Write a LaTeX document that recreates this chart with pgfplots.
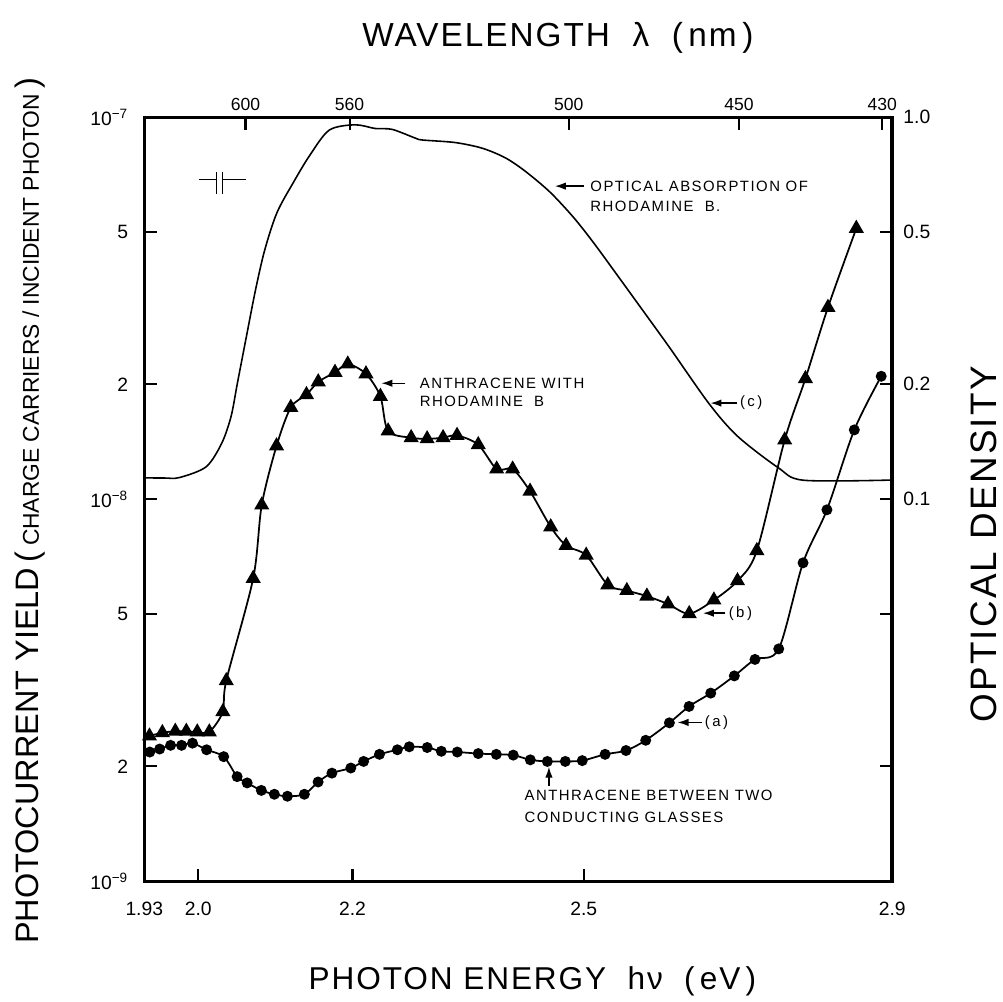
\documentclass[border=0pt]{standalone}
\usepackage{fontspec}
\setmainfont{Liberation Sans}
\newfontfamily\spaced[LetterSpace=6]{Liberation Sans}
\newfontfamily\annot[LetterSpace=10]{Liberation Sans}
\usepackage{pgfplots}
\pgfplotsset{compat=1.18}
\usetikzlibrary{arrows.meta}

\tikzset{
  ann/.style={font=\annot\fontsize{8.5}{10}\selectfont, anchor=west, inner sep=0pt},
  arr/.style={line width=0.8pt,-{Latex[length=2.2mm,width=1.5mm]}},
}

\begin{document}
\begin{tikzpicture}
% left / bottom: photocurrent yield against photon energy
\begin{axis}[
  scale only axis, width=14.98cm, height=15.3cm,
  xmin=1.93, xmax=2.9, ymode=log, ymin=1e-9, ymax=1e-7,
  tick align=inside, major tick length=0.25cm,
  yminorticks=false, xminorticks=false,
  axis line style={line width=2pt},
  major tick style={black,line width=1.2pt},
  clip=false,
  xtick pos=bottom, ytick pos=left,
  xtick={1.93,2.0,2.2,2.5,2.9}, xticklabels={1.93,2.0,2.2,2.5,2.9},
  ytick={1e-9,2e-9,5e-9,1e-8,2e-8,5e-8,1e-7},
  yticklabels={10\textsuperscript{−9},2,5,10\textsuperscript{−8},2,5,10\textsuperscript{−7}},
  tick label style={font=\fontsize{11}{13}\selectfont},
  xticklabel style={yshift=-0.3cm},
  yticklabel style={xshift=-0.2cm},
]
% (a) anthracene between two conducting glasses
\addplot[black, line width=1pt, smooth, tension=0.5, mark=*, mark size=2.6pt] coordinates {
(1.9371,2.18e-9) (1.9499,2.22e-9) (1.9641,2.27e-9) (1.9783,2.27e-9) (1.9925,2.30e-9)
(2.0108,2.21e-9) (2.0330,2.12e-9) (2.0504,1.88e-9) (2.0634,1.81e-9) (2.0818,1.73e-9)
(2.0987,1.69e-9) (2.1156,1.67e-9) (2.1376,1.69e-9) (2.1554,1.82e-9) (2.1733,1.92e-9)
(2.1978,1.98e-9) (2.2144,2.06e-9) (2.2350,2.15e-9) (2.2582,2.21e-9) (2.2736,2.25e-9)
(2.2969,2.24e-9) (2.3152,2.19e-9) (2.3359,2.18e-9) (2.3631,2.16e-9) (2.3865,2.15e-9)
(2.4085,2.14e-9) (2.4306,2.08e-9) (2.4527,2.06e-9) (2.4760,2.06e-9) (2.4980,2.07e-9)
(2.5276,2.15e-9) (2.5547,2.20e-9) (2.5803,2.34e-9) (2.6110,2.60e-9) (2.6365,2.87e-9)
(2.6646,3.11e-9) (2.6952,3.45e-9) (2.7220,3.81e-9) (2.7528,4.06e-9)
(2.7843,6.82e-9) (2.8153,9.39e-9) (2.8508,1.52e-8) (2.8857,2.10e-8)};
% (b) anthracene with rhodamine B
\addplot[black, line width=1pt, smooth, tension=0.5, mark=triangle*, mark size=4pt] coordinates {
(1.9367,2.40e-9) (1.9534,2.45e-9) (1.9702,2.47e-9) (1.9845,2.47e-9) (1.9987,2.46e-9)
(2.0143,2.46e-9) (2.0319,2.78e-9) (2.0363,3.35e-9) (2.0712,6.21e-9) (2.0823,9.66e-9)
(2.1015,1.38e-8) (2.1200,1.74e-8) (2.1403,1.88e-8) (2.1556,2.03e-8) (2.1773,2.15e-8)
(2.1939,2.26e-8) (2.2175,2.13e-8) (2.2362,1.86e-8) (2.2462,1.51e-8) (2.2761,1.45e-8)
(2.2968,1.44e-8) (2.3175,1.45e-8) (2.3356,1.47e-8) (2.3631,1.39e-8) (2.3870,1.20e-8)
(2.4077,1.20e-8) (2.4303,1.05e-8) (2.4571,8.47e-9) (2.4770,7.57e-9) (2.5031,7.14e-9)
(2.5311,5.97e-9) (2.5558,5.77e-9) (2.5818,5.58e-9) (2.6092,5.32e-9) (2.6367,5.02e-9)
(2.6687,5.45e-9) (2.6993,6.12e-9) (2.7244,7.34e-9) (2.7605,1.43e-8) (2.7874,2.07e-8)
(2.8166,3.18e-8) (2.8534,5.12e-8)};

% titles
\node[font=\spaced\fontsize{19}{22}\selectfont] at ([yshift=1.6cm]rel axis cs:0.553,1) {WAVELENGTH\ \ λ\ \ (\,nm\,)};
\node[font=\spaced\fontsize{18}{22}\selectfont] at ([yshift=-2.0cm]rel axis cs:0.519,0) {PHOTON ENERGY\ \ hν\ \ (\,eV\,)};
\node[rotate=90, font=\fontsize{18.5}{22}\selectfont] at ([xshift=-2.28cm]rel axis cs:0,0.485)
  {PHOTOCURRENT YIELD\,(\,{\fontsize{13}{15}\selectfont CHARGE CARRIERS / INCIDENT PHOTON}\,)};
\node[rotate=90, font=\spaced\fontsize{21}{24}\selectfont] at ([xshift=1.84cm]rel axis cs:1,0.441) {OPTICAL DENSITY};

% annotations
\node[ann] at (rel axis cs:0.596,0.910) {OPTICAL ABSORPTION OF};
\node[ann] at (rel axis cs:0.596,0.883) {RHODAMINE\ \ B.};
\draw[arr] (rel axis cs:0.588,0.910) -- (rel axis cs:0.549,0.910);
\node[ann] at (rel axis cs:0.368,0.652) {ANTHRACENE WITH};
\node[ann] at (rel axis cs:0.368,0.628) {RHODAMINE\ \ B};
\draw[arr] (rel axis cs:0.349,0.652) -- (rel axis cs:0.317,0.652);
\node[ann] at (rel axis cs:0.796,0.626) {(\,c\,)};
\draw[arr] (rel axis cs:0.793,0.626) -- (rel axis cs:0.757,0.626);
\node[ann] at (rel axis cs:0.781,0.351) {(\,b\,)};
\draw[arr] (rel axis cs:0.777,0.351) -- (rel axis cs:0.747,0.351);
\node[ann] at (rel axis cs:0.749,0.208) {(\,a\,)};
\draw[arr] (rel axis cs:0.746,0.208) -- (rel axis cs:0.713,0.208);
\node[ann] at (rel axis cs:0.508,0.113) {ANTHRACENE BETWEEN TWO};
\node[ann] at (rel axis cs:0.508,0.084) {CONDUCTING GLASSES};
\draw[arr] (rel axis cs:0.541,0.125) -- (rel axis cs:0.541,0.150);
% capacitor sign
\draw[line width=1pt] (rel axis cs:0.0725,0.9187) -- (rel axis cs:0.0966,0.9187)
  (rel axis cs:0.0966,0.9003) -- (rel axis cs:0.0966,0.929)
  (rel axis cs:0.1046,0.9003) -- (rel axis cs:0.1046,0.929)
  (rel axis cs:0.1046,0.9187) -- (rel axis cs:0.1354,0.9187);
\end{axis}

% right / top: optical density of rhodamine B against wavelength
\begin{axis}[
  scale only axis, width=14.98cm, height=15.3cm,
  xmin=1.93, xmax=2.9, ymode=log, ymin=0.01, ymax=1,
  tick align=inside, major tick length=0.25cm,
  yminorticks=false, xminorticks=false,
  axis x line*=top, axis y line*=right,
  axis line style={line width=2pt,-},
  major tick style={black,line width=1.2pt},
  clip=false,
  xtick={2.0612,2.1962,2.4805,2.7012,2.887}, xticklabels={600,560,500,450,430},
  ytick={0.02,0.05,0.1,0.2,0.5,1}, yticklabels={,,0.1,0.2,0.5,1.0},
  xticklabel style={font=\fontsize{10}{12}\selectfont},
  yticklabel style={font=\fontsize{11}{13}\selectfont, xshift=0.1cm},
]
% (c) optical absorption of rhodamine B
\addplot[black, line width=0.9pt, smooth, tension=0.5] coordinates {
(1.9300,0.1138) (1.9560,0.1137) (1.9755,0.1140) (2.0101,0.1216) (2.0302,0.1399)
(2.0425,0.1647) (2.0507,0.2012) (2.0625,0.2673) (2.0742,0.353) (2.0862,0.4496)
(2.1020,0.5627) (2.1233,0.6751) (2.1446,0.7955) (2.1699,0.926) (2.2034,0.956)
(2.2294,0.935) (2.2514,0.930) (2.2814,0.8825) (2.2905,0.8724) (2.3333,0.859)
(2.3684,0.830) (2.3985,0.783) (2.4247,0.721) (2.4562,0.637) (2.4867,0.547)
(2.5132,0.468) (2.5439,0.385) (2.5665,0.333) (2.6104,0.251) (2.6624,0.178)
(2.6995,0.1462) (2.7521,0.121) (2.7848,0.1122) (2.8987,0.1123)};
\end{axis}
% page frame: the axis box sits at the origin
\path (-2.89cm,-2.41cm) rectangle (17.15cm,17.65cm);
\end{tikzpicture}
\end{document}
